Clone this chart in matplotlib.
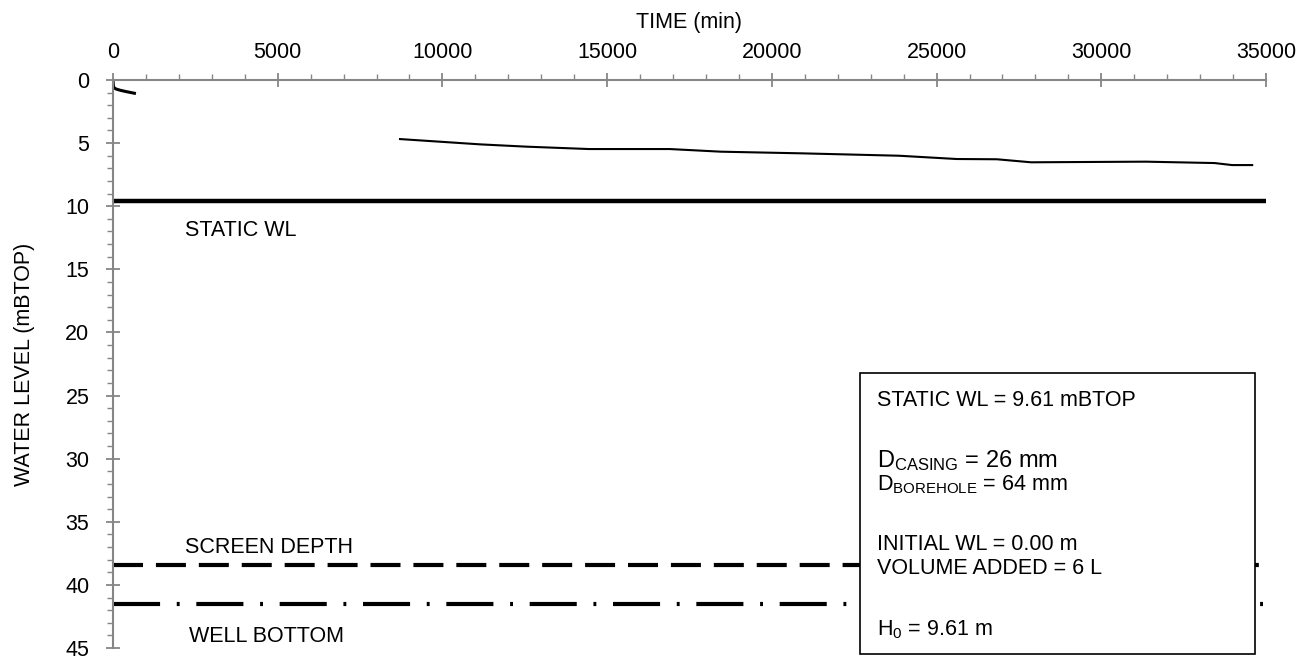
import matplotlib
matplotlib.use("Agg")
import matplotlib.pyplot as plt
from matplotlib.ticker import MultipleLocator
from matplotlib.patches import Rectangle

plt.rcParams['font.family'] = ['Liberation Sans', 'DejaVu Sans']
plt.rcParams['mathtext.fontset'] = 'custom'
plt.rcParams['mathtext.rm'] = 'Liberation Sans'
plt.rcParams['mathtext.it'] = 'Liberation Sans'

# early readings after slug added (min, mBTOP)
t_early = [0, 10, 30, 100, 230, 400, 650]
wl_early = [0.0, 0.45, 0.62, 0.72, 0.82, 0.92, 1.05]

# later readings
t_late = [8713, 11150, 12540, 14450, 16900, 18460, 20900, 23860, 25610,
          26830, 27870, 31350, 33440, 33970, 34580]
wl_late = [4.68, 5.10, 5.28, 5.47, 5.47, 5.68, 5.81, 6.00, 6.26,
           6.28, 6.52, 6.47, 6.58, 6.74, 6.74]

static_wl = 9.61
screen_depth = 38.4
well_bottom = 41.5
t_max = 35000

grey = '#868686'
fs = 15.5

fig = plt.figure(figsize=(13.14, 6.61), dpi=100)
ax = fig.add_axes([113 / 1314, 1 - 648 / 661, (1266 - 113) / 1314, (648 - 80) / 661])

ax.plot(t_early, wl_early, color='black', lw=2.2)
ax.plot(t_late, wl_late, color='black', lw=1.5)
ax.plot([0, t_max], [static_wl, static_wl], color='black', lw=3.2, solid_capstyle='butt')
ax.plot([0, t_max], [screen_depth, screen_depth], color='black', lw=3,
        dashes=(7.2, 3.1), dash_capstyle='butt')
ax.plot([0, t_max], [well_bottom, well_bottom], color='black', lw=3,
        dashes=(11.3, 4.0, 0.7, 4.0), dash_capstyle='butt')

ax.set_xlim(0, t_max)
ax.set_ylim(45, 0)
ax.xaxis.tick_top()
ax.xaxis.set_label_position('top')
ax.xaxis.set_major_locator(MultipleLocator(5000))
ax.xaxis.set_minor_locator(MultipleLocator(1000))
ax.yaxis.set_major_locator(MultipleLocator(5))
ax.yaxis.set_minor_locator(MultipleLocator(1))

for s in ['right', 'bottom']:
    ax.spines[s].set_visible(False)
for s in ['left', 'top']:
    ax.spines[s].set_color(grey)
    ax.spines[s].set_linewidth(1.5)

ax.tick_params(which='major', direction='inout', length=10, width=1.3, color=grey,
               labelsize=fs)
ax.tick_params(axis='x', which='major', pad=7)
ax.tick_params(axis='y', which='major', pad=12)
ax.tick_params(which='minor', direction='out', length=4, width=1.0, color=grey)

ax.set_xlabel('TIME (min)', fontsize=fs, labelpad=10)
ax.set_ylabel('WATER LEVEL (mBTOP)', fontsize=fs, labelpad=22)

ax.text(2200, 11.9, 'STATIC WL', fontsize=fs, va='center')
ax.text(2200, 37.0, 'SCREEN DEPTH', fontsize=fs, va='center')
ax.text(2300, 44.1, 'WELL BOTTOM', fontsize=fs, va='center')

# info box (figure pixel coords)
box = Rectangle((860 / 1314, 1 - 654 / 661), (1255 - 860) / 1314, (654 - 373) / 661,
                transform=fig.transFigure, facecolor='white', edgecolor='black', lw=1.2)
fig.patches.append(box)

def ftxt(px, py, s, **kw):
    fig.text(px / 1314, 1 - py / 661, s, va='center', ha='left', **kw)

ftxt(877, 401, 'STATIC WL = 9.61 mBTOP', fontsize=fs)
ftxt(877, 461, r'D$_{\mathrm{CASING}}$ = 26 mm', fontsize=17)
ftxt(877, 485, r'D$_{\mathrm{BOREHOLE}}$ = 64 mm', fontsize=fs)
ftxt(877, 545, 'INITIAL WL = 0.00 m', fontsize=fs)
ftxt(877, 569, 'VOLUME ADDED = 6 L', fontsize=fs)
ftxt(877, 630, r'H$_{\mathrm{0}}$ = 9.61 m', fontsize=fs)

fig.savefig('out.png', dpi=100)
